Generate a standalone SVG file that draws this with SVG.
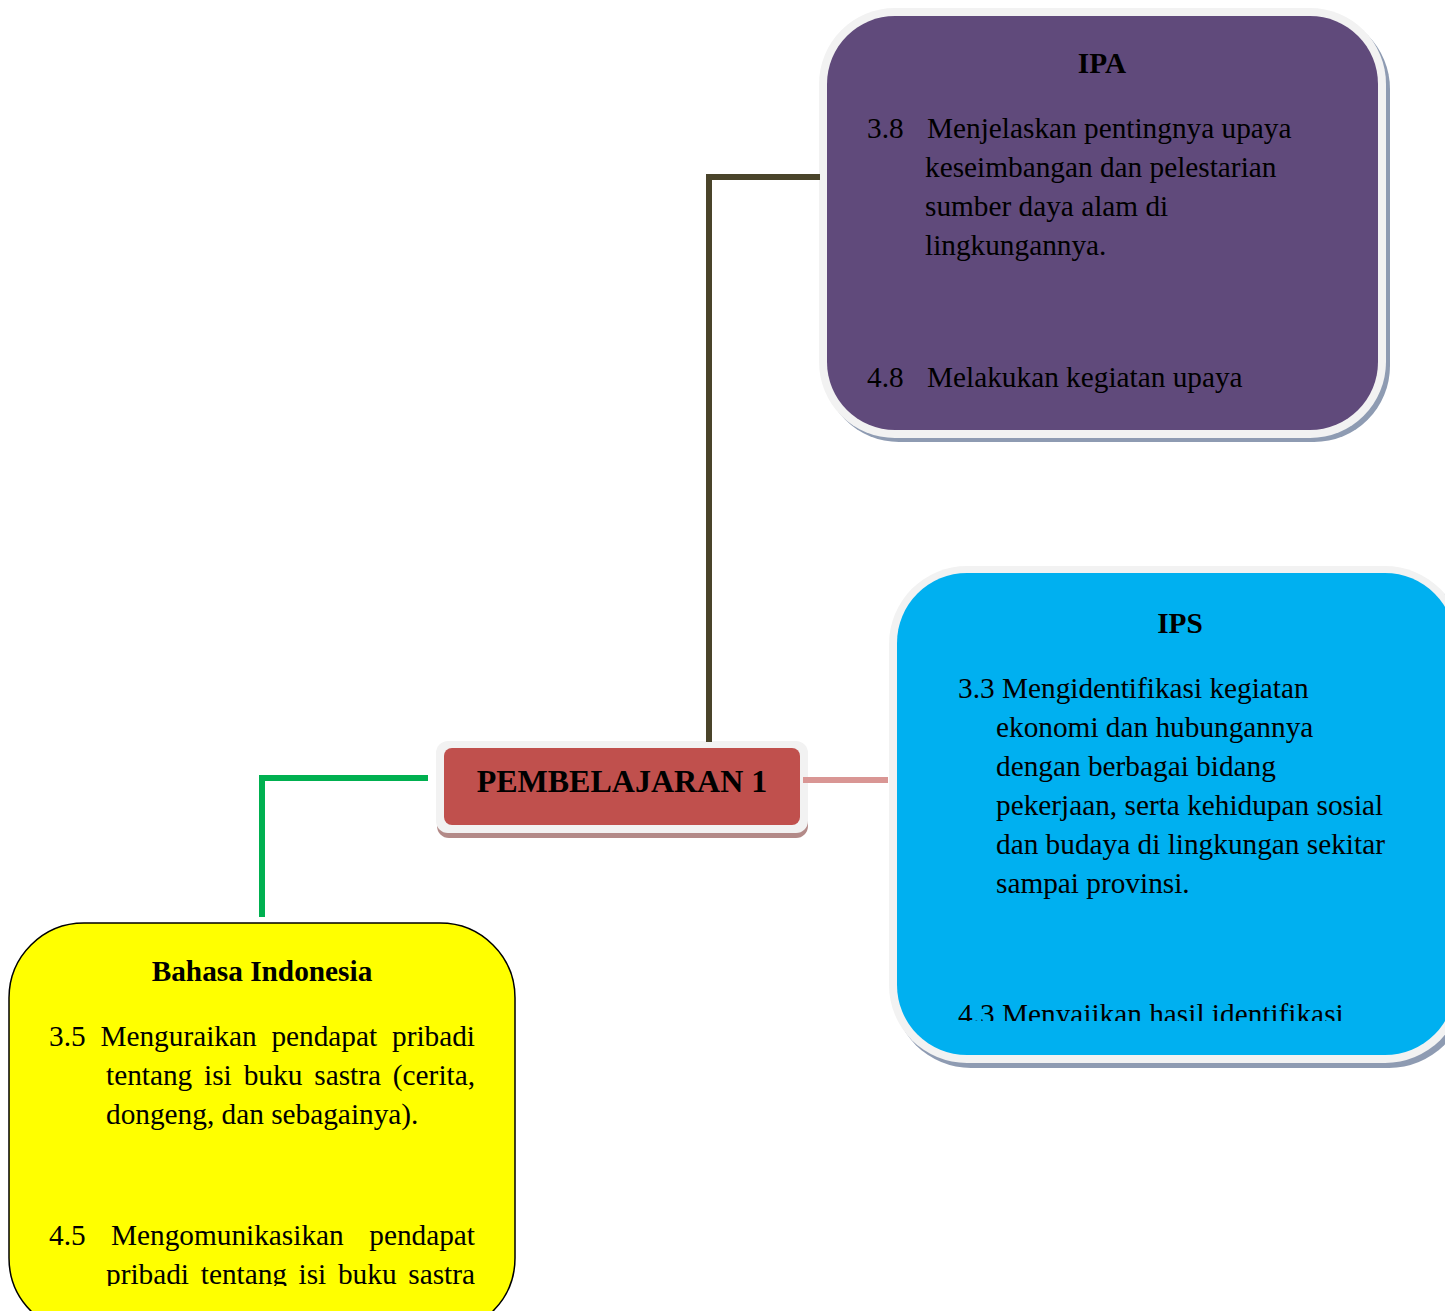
<svg xmlns="http://www.w3.org/2000/svg" width="1445" height="1311" viewBox="0 0 1445 1311">
<defs>
<style>
.t{font-family:"Liberation Serif","Times New Roman",serif;font-size:29.3px;fill:#000}
.b{font-weight:bold}
.c{text-anchor:middle}
.e{text-anchor:end}
.frame{fill:#F2F2F2}
.shadow{fill:#8E9BB2}
.conn{fill:none;stroke-width:6;stroke-linecap:butt;stroke-linejoin:miter}
</style>
<clipPath id="clipIPS"><rect x="890" y="560" width="560" height="461"/></clipPath>
<clipPath id="clipBI"><rect x="0" y="920" width="520" height="366"/></clipPath>
</defs>
<rect width="1445" height="1311" fill="#FFFFFF"/>

<g id="node-ipa">
<rect class="shadow" x="823" y="13" width="567" height="429" rx="76"/>
<rect class="frame" x="819" y="8" width="567" height="430" rx="76"/>
<rect x="827" y="16" width="551" height="414" rx="68" fill="#604A7B"/>
<text class="t b c" x="1102" y="73">IPA</text>
<text class="t" x="867" y="138">3.8</text>
<text class="t" x="927" y="138">Menjelaskan pentingnya upaya</text>
<text class="t" x="925" y="177">keseimbangan dan pelestarian</text>
<text class="t" x="925" y="216">sumber daya alam di</text>
<text class="t" x="925" y="255">lingkungannya.</text>
<text class="t" x="867" y="387">4.8</text>
<text class="t" x="927" y="387">Melakukan kegiatan upaya</text>
</g>

<g id="node-ips">
<rect class="shadow" x="893" y="571" width="574" height="497" rx="78"/>
<rect class="frame" x="889" y="566" width="574" height="497" rx="78"/>
<rect x="897" y="573" width="558" height="482" rx="70" fill="#00B0F0"/>
<text class="t b c" x="1180" y="633">IPS</text>
<g clip-path="url(#clipIPS)">
<text class="t" x="958" y="698">3.3 Mengidentifikasi kegiatan</text>
<text class="t" x="996" y="737">ekonomi dan hubungannya</text>
<text class="t" x="996" y="776">dengan berbagai bidang</text>
<text class="t" x="996" y="815">pekerjaan, serta kehidupan sosial</text>
<text class="t" x="996" y="854">dan budaya di lingkungan sekitar</text>
<text class="t" x="996" y="893">sampai provinsi.</text>
<text class="t" x="958" y="1024">4.3 Menyajikan hasil identifikasi</text>
</g>
</g>

<g id="node-pembelajaran">
<rect x="437" y="746" width="371" height="92" rx="12" fill="#B38A88"/>
<rect class="frame" x="436" y="741" width="372" height="92" rx="12"/>
<rect x="444" y="748" width="356" height="77" rx="8" fill="#C0504D"/>
<text class="t b c" x="622" y="792" style="font-size:32px">PEMBELAJARAN 1</text>
</g>

<g id="node-bahasa">
<rect x="9" y="923" width="506" height="410" rx="75" fill="#FFFF00" stroke="#000" stroke-width="1.5"/>
<text class="t b c" x="262" y="981">Bahasa Indonesia</text>
<g clip-path="url(#clipBI)">
<text class="t" x="49" y="1046">3.5</text>
<text class="t" x="100.4" y="1046">Menguraikan</text>
<text class="t" x="271.4" y="1046">pendapat</text>
<text class="t e" x="475" y="1046">pribadi</text>
<text class="t" x="106" y="1085">tentang</text>
<text class="t" x="204" y="1085">isi</text>
<text class="t" x="243.7" y="1085">buku</text>
<text class="t" x="314.3" y="1085">sastra</text>
<text class="t e" x="475" y="1085">(cerita,</text>
<text class="t" x="106" y="1124">dongeng, dan sebagainya).</text>
<text class="t" x="49" y="1245">4.5</text>
<text class="t" x="111" y="1245">Mengomunikasikan</text>
<text class="t e" x="475" y="1245">pendapat</text>
<text class="t" x="106" y="1284">pribadi</text>
<text class="t" x="200.75" y="1284">tentang</text>
<text class="t" x="298.5" y="1284">isi</text>
<text class="t" x="337.95" y="1284">buku</text>
<text class="t e" x="475" y="1284">sastra</text>
</g>
</g>

<g id="connectors">
<polyline class="conn" stroke="#4A442A" points="709,742 709,177 820,177"/>
<polyline class="conn" stroke="#00B050" points="428,778 262,778 262,917"/>
<line class="conn" stroke="#D99694" x1="803" y1="780" x2="888" y2="780"/>
</g>
</svg>
